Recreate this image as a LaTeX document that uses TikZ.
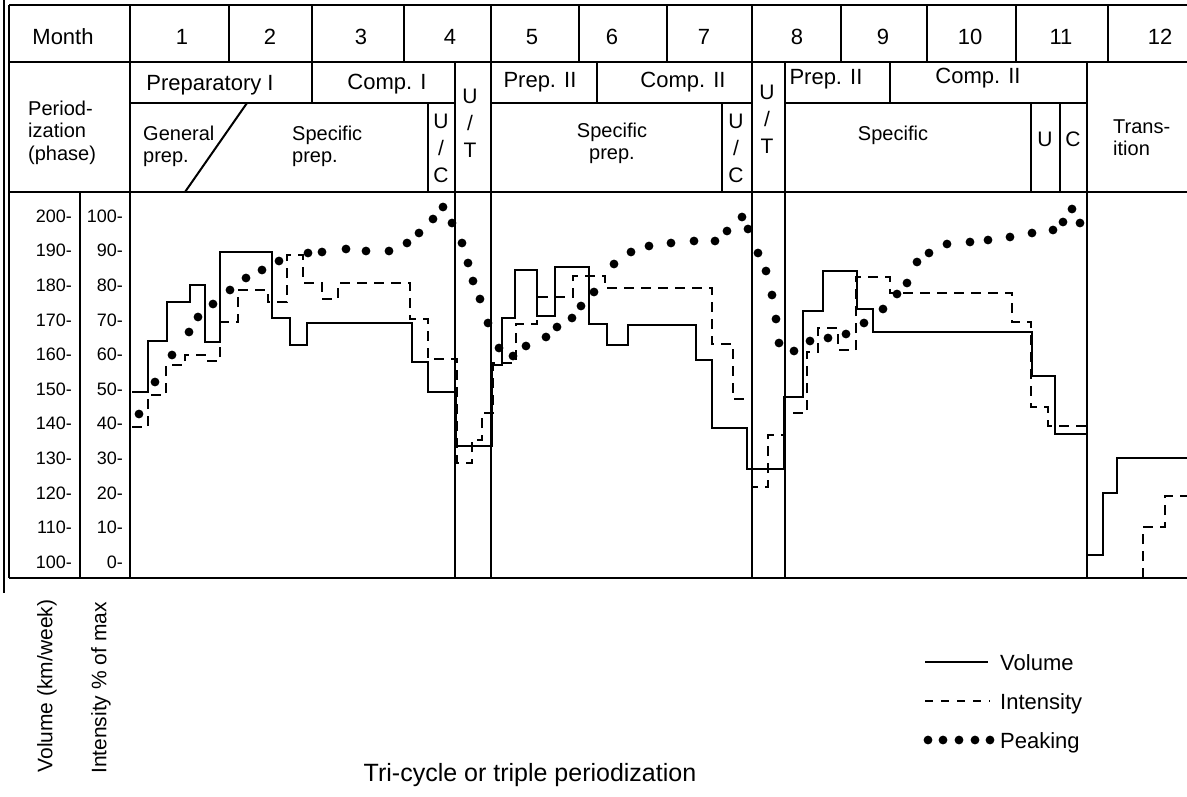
\documentclass[tikz,border=0pt]{standalone}
\usepackage{fontspec}
\setmainfont{Liberation Sans}
\newcommand{\llines}[1]{\vtop{\halign{##\hfil\cr#1\crcr}}}
\newcommand{\clines}[1]{\vtop{\halign{\hfil##\hfil\cr#1\crcr}}}
\begin{document}
\begin{tikzpicture}[x=1pt,y=-1pt,
    frame/.style={line width=2pt},
    vol/.style={line width=2pt},
    inten/.style={line width=2pt,dash pattern=on 10pt off 7pt},
    hdr/.style={font=\fontsize{22}{26}\selectfont,inner sep=0pt,anchor=base},
    txt/.style={font=\fontsize{20}{22.5}\selectfont,inner sep=0pt,anchor=base west},
    ut/.style={font=\fontsize{21}{27}\selectfont,inner sep=0pt,anchor=base},
    tick/.style={font=\fontsize{18}{20}\selectfont,inner sep=0pt,anchor=east}]
\useasboundingbox (0,0) rectangle (1187,796);
	\draw[line width=1.2pt] (4,0) -- (4,593);
	\draw[frame] (9,5) -- (1187,5) (9,62) -- (1187,62) (9,192) -- (1187,192) (9,578) -- (1187,578);
	\draw[frame] (9,5) -- (9,578) (130,5) -- (130,578) (80,192) -- (80,578);
	\foreach \x in {229,312,404,491,579,667,752,841,927,1016,1108} \draw[frame] (\x,5) -- (\x,62);
	\foreach \x in {455,491,752,785,1087} \draw[frame] (\x,62) -- (\x,578);
	\draw[frame] (130,103) -- (455,103) (491,103) -- (752,103) (785,103) -- (1087,103);
	\draw[frame] (312,62) -- (312,103) (597,62) -- (597,103) (890,62) -- (890,103);
	\draw[frame] (428,103) -- (428,192) (722,103) -- (722,192) (1031,103) -- (1031,192) (1060,103) -- (1060,192);
	\draw[frame] (247,103) -- (185,192);

	\node[hdr] (month) at (63,44) {Month};
	\foreach \x/\m in {182/1,270/2,361/3,450/4,532/5,612/6,704/7,797/8,883/9,970/10,1061/11,1160/12}
		\node[hdr] (m\m) at (\x,44) {\m};

	\node[txt] (phase) at (28,115) {\llines{Period-\cr ization\cr (phase)}};
	\node[hdr] (prepA) at (210,90) {Preparatory I};
	\node[hdr] (compA) at (387,89) {Comp. I};
	\node[hdr] (prepB) at (540,87) {Prep. II};
	\node[hdr] (compB) at (683,87) {Comp. II};
	\node[hdr] (prepC) at (826,84) {Prep. II};
	\node[hdr] (compC) at (978,83) {Comp. II};
	\node[txt] (genA) at (143,140) {\llines{General\cr prep.}};
	\node[txt] (specA) at (292,140) {\llines{Specific\cr prep.}};
	\node[txt,anchor=base] (specB) at (612,137) {\clines{Specific\cr prep.}};
	\node[txt,anchor=base] (specC) at (893,140) {Specific};
	\node[txt] (trans) at (1113,133) {\llines{Trans-\cr ition}};
	\node[ut] (ucA) at (441,128) {\clines{U\cr /\cr C}};
	\node[ut] (utA) at (470,103) {\clines{U\cr /\cr T}};
	\node[ut] (ucB) at (736,128) {\clines{U\cr /\cr C}};
	\node[ut] (utB) at (767,99) {\clines{U\cr /\cr T}};
	\node[ut] (uC) at (1045,146) {U};
	\node[ut] (cC) at (1073,146) {C};

	\foreach \v [count=\k from 0, evaluate=\v as \p using int(\v-100)] in {200,190,...,100} {
		\node[tick] (vt\k) at (72,{216+34.6*\k}) {\v-};
		\node[tick] (it\k) at (123,{216+34.6*\k}) {\p-};
	}

	\draw[vol] (132,392) -- (148,392) -- (148,341) -- (167,341) -- (167,302) -- (190,302) -- (190,285) -- (205,285)
		-- (205,342) -- (220,342) -- (220,252) -- (272,252) -- (272,318) -- (290,318) -- (290,345) -- (307,345)
		-- (307,323) -- (412,323) -- (412,362) -- (428,362) -- (428,392) -- (456,392) -- (456,446) -- (492,446)
		-- (492,365) -- (502,365) -- (502,318) -- (515,318) -- (515,270) -- (537,270) -- (537,316) -- (555,316)
		-- (555,267) -- (589,267) -- (589,324) -- (607,324) -- (607,345) -- (628,345) -- (628,325) -- (696,325)
		-- (696,360) -- (712,360) -- (712,428) -- (747,428) -- (747,469) -- (784,469) -- (784,397) -- (803,397)
		-- (803,311) -- (823,311) -- (823,271) -- (857,271) -- (857,309) -- (873,309) -- (873,332) -- (1032,332)
		-- (1032,376) -- (1055,376) -- (1055,434) -- (1087,434);
	\draw[vol] (1088,555) -- (1103,555) -- (1103,493) -- (1117,493) -- (1117,458) -- (1187,458);

	\draw[inten] (132,427) -- (148,427) -- (148,395) -- (166,395) -- (166,365) -- (185,365) -- (185,355) -- (205,355)
		-- (205,361) -- (220,361) -- (220,322) -- (238,322) -- (238,290) -- (268,290) -- (268,302) -- (287,302)
		-- (287,255) -- (303,255) -- (303,283) -- (322,283) -- (322,299) -- (338,299) -- (338,283) -- (410,283)
		-- (410,319) -- (428,319) -- (428,359) -- (457,359) -- (457,463) -- (472,463) -- (472,440) -- (482,440)
		-- (482,413) -- (493,413) -- (493,363) -- (516,363) -- (516,324) -- (537,324) -- (537,297) -- (573,297)
		-- (573,276) -- (605,276) -- (605,288) -- (712,288) -- (712,344) -- (733,344) -- (733,399) -- (752,399)
		-- (752,487) -- (768,487) -- (768,435) -- (785,435) -- (785,413) -- (807,413) -- (807,352) -- (818,352)
		-- (818,328) -- (838,328) -- (838,350) -- (856,350) -- (856,277) -- (890,277) -- (890,293) -- (1012,293)
		-- (1012,322) -- (1031,322) -- (1031,407) -- (1048,407) -- (1048,426) -- (1087,426);
	\draw[inten] (1143,578) -- (1143,527) -- (1165,527) -- (1165,496) -- (1187,496);

	\foreach \p in {(139,414),(155,382),(172,355),(189,332),(198,317),(213,304),(230,290),(246,278),(262,270),
		(279,261),(308,253),(322,252),(346,249),(366,251),(389,251),(407,243),(419,233),(433,219),(443,207),
		(452,223),(462,243),(468,263),(473,281),(480,299),(488,323),(499,348),(513,356),(526,346),(546,337),
		(557,327),(572,318),(581,306),(594,292),(614,264),(631,252),(649,246),(671,243),(694,241),(715,241),
		(727,231),(742,217),(748,229),(758,253),(766,271),(772,295),(776,319),(779,343),(794,351),(810,341),
		(828,338),(846,334),(864,323),(883,309),(897,294),(907,283),(917,262),(929,253),(947,244),(970,242),
		(988,240),(1010,237),(1032,233),(1053,230),(1063,222),(1072,209),(1080,223)}
		\fill \p circle (4.4pt);

	\node[font=\fontsize{21}{24}\selectfont,rotate=90] (volax) at (47,686) {Volume (km/week)};
	\node[font=\fontsize{21}{24}\selectfont,rotate=90] (intax) at (101,688) {Intensity \% of max};

	\draw[vol] (925,662) -- (988,662);
	\node[hdr,anchor=base west] (legvol) at (1000,670) {Volume};
	\draw[inten,dash pattern=on 8pt off 8pt] (925,701) -- (990,701);
	\node[hdr,anchor=base west] (legint) at (1000,709) {Intensity};
	\foreach \x in {928,943,959,975,990} \fill (\x,740) circle (4.4pt);
	\node[hdr,anchor=base west] (legpeak) at (1000,748) {Peaking};

	\node[font=\fontsize{25}{28}\selectfont,inner sep=0pt,anchor=base] (caption) at (530,781) {Tri-cycle or triple periodization};
\end{tikzpicture}
\end{document}
